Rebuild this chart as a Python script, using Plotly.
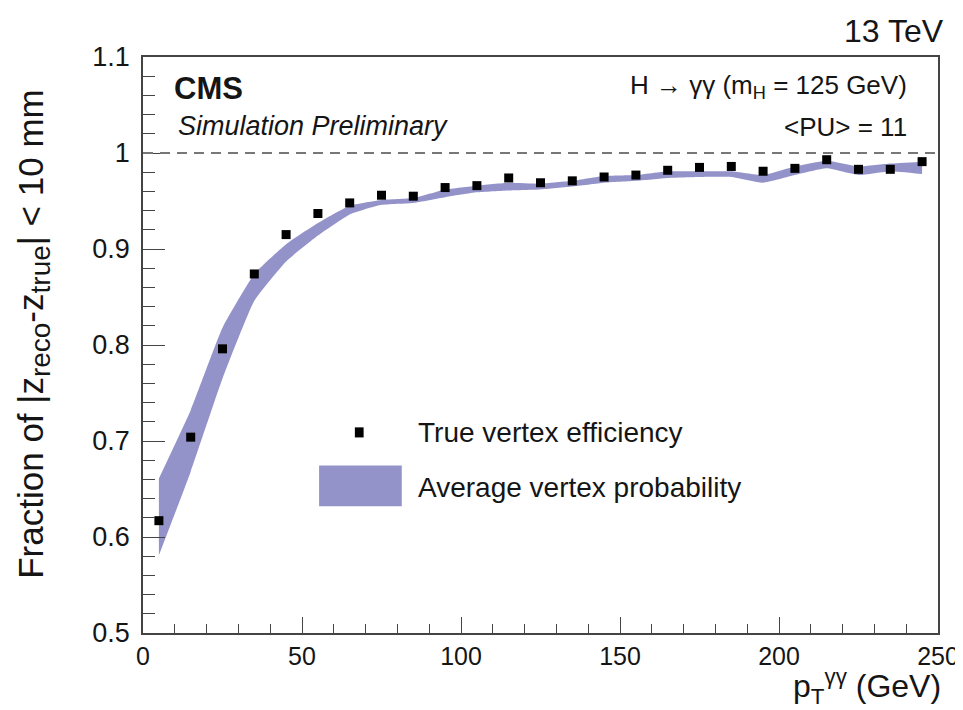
import plotly.graph_objects as go

# ---- data ----
pt_bins = [5, 15, 25, 35, 45, 55, 65, 75, 85, 95, 105, 115, 125, 135, 145,
           155, 165, 175, 185, 195, 205, 215, 225, 235, 245]
true_eff = [0.617, 0.704, 0.796, 0.874, 0.915, 0.937, 0.948, 0.956, 0.955, 0.964,
            0.966, 0.974, 0.969, 0.971, 0.975, 0.977, 0.982, 0.985, 0.986, 0.981,
            0.984, 0.993, 0.983, 0.983, 0.991]
prob_low = [0.581, 0.668, 0.765, 0.846, 0.887, 0.914, 0.936, 0.946, 0.948, 0.954,
            0.959, 0.961, 0.962, 0.965, 0.969, 0.971, 0.974, 0.975, 0.975, 0.969,
            0.977, 0.984, 0.977, 0.981, 0.978]
prob_high = [0.661, 0.732, 0.818, 0.874, 0.905, 0.927, 0.945, 0.951, 0.953, 0.962,
             0.966, 0.969, 0.968, 0.971, 0.976, 0.977, 0.981, 0.981, 0.981, 0.977,
             0.986, 0.992, 0.986, 0.989, 0.991]
x_ticks = [0, 50, 100, 150, 200, 250]
y_ticks = [0.5, 0.6, 0.7, 0.8, 0.9, 1.0, 1.1]
y_tick_text = ["0.5", "0.6", "0.7", "0.8", "0.9", "1", "1.1"]

BAND = "#9393ca"
FONT = "Liberation Sans, Arial, Helvetica, sans-serif"
TXT = "#151515"

fig = go.Figure()
fig.add_trace(go.Scatter(x=pt_bins, y=prob_low, mode="lines",
                         line=dict(width=0, color=BAND, shape="spline", smoothing=0.4),
                         showlegend=False, hoverinfo="skip"))
fig.add_trace(go.Scatter(x=pt_bins, y=prob_high, mode="lines", fill="tonexty",
                         fillcolor=BAND,
                         line=dict(width=0, color=BAND, shape="spline", smoothing=0.4),
                         name="Average vertex probability", showlegend=False))
fig.add_trace(go.Scatter(x=pt_bins, y=true_eff, mode="markers",
                         marker=dict(symbol="square", size=9, color="black"),
                         name="True vertex efficiency", showlegend=False))

# dashed line at 1
fig.add_shape(type="line", xref="paper", yref="y", x0=0, x1=1, y0=1, y1=1,
              line=dict(color="#777777", width=2, dash="10px,7px"))

# manual legend
fig.add_shape(type="rect", xref="paper", yref="paper", x0=0.2665, x1=0.2775,
              y0=0.3395, y1=0.3570, fillcolor="black", line=dict(width=0))
fig.add_shape(type="rect", xref="paper", yref="paper", x0=0.2215, x1=0.3255,
              y0=0.2200, y1=0.2910, fillcolor=BAND, line=dict(width=0))

ann = []
def add(text, x, y, size, xanchor="left", yanchor="middle", angle=0):
    ann.append(dict(text=text, x=x, y=y, xref="paper", yref="paper",
                    xanchor=xanchor, yanchor=yanchor, showarrow=False,
                    textangle=angle, font=dict(family=FONT, size=size, color=TXT)))

add("True vertex efficiency", 0.344, 0.3485, 28)
add("Average vertex probability", 0.344, 0.2520, 28)
add("<b>CMS</b>", 0.036, 0.946, 31)
add("<i>Simulation Preliminary</i>", 0.041, 0.880, 27)
add("H → γγ (m<sub>H</sub> = 125 GeV)", 0.963, 0.948, 26, xanchor="right")
add("&lt;PU&gt; = 11", 0.963, 0.879, 26, xanchor="right")
add("13 TeV", 1.010, 1.045, 32, xanchor="right")
add("Fraction of |z<sub><span style='font-size:28px'>reco</span></sub>"
    "-z<sub><span style='font-size:28px'>true</span></sub>| &lt; 10 mm",
    -0.138, 0.520, 35, xanchor="center", angle=-90)
add("p<sub>T</sub><sup>γγ</sup> (GeV)", 1.006, -0.093, 32, xanchor="right")

fig.update_layout(
    width=963, height=710,
    margin=dict(l=135, r=21, t=49, b=85),
    paper_bgcolor="white", plot_bgcolor="white",
    annotations=ann,
    font=dict(family=FONT, color=TXT),
)
fig.update_xaxes(range=[0, 250], tickvals=x_ticks, ticks="inside", ticklen=16,
                 tickwidth=1.3, tickcolor="#444", showline=True, linecolor="#444",
                 linewidth=1.5, mirror=True, showgrid=False, zeroline=False,
                 tickfont=dict(family=FONT, size=25, color=TXT),
                 minor=dict(dtick=10, ticks="inside", ticklen=9, tickcolor="#444",
                            showgrid=False))
fig.update_yaxes(range=[0.5, 1.1], tickvals=y_ticks, ticktext=y_tick_text,
                 ticks="inside", ticklen=22, tickwidth=1.3, tickcolor="#444",
                 showline=True, linecolor="#444", linewidth=1.5, mirror=True,
                 showgrid=False, zeroline=False, ticklabelstandoff=6,
                 tickfont=dict(family=FONT, size=27, color=TXT),
                 minor=dict(dtick=0.02, ticks="inside", ticklen=12, tickcolor="#444",
                            showgrid=False))

fig.write_html("out.html")
